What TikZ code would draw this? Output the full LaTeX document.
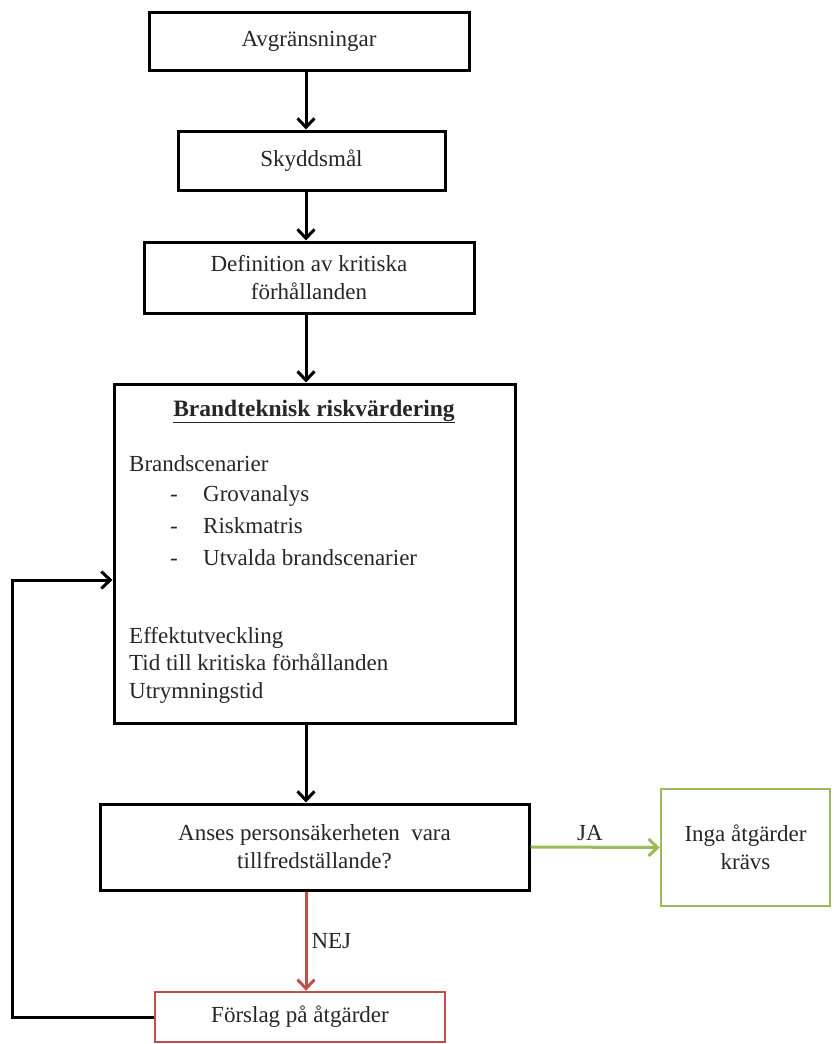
\documentclass[tikz,border=0pt]{standalone}
\usepackage{fontspec}
\setmainfont{Liberation Serif}
\usetikzlibrary{arrows.meta}
\definecolor{grn}{HTML}{9BBB59}
\definecolor{rd}{HTML}{C0504D}
\definecolor{txt}{HTML}{262626}
\newcommand{\fsz}{\fontsize{23}{28}\selectfont}
\begin{document}
\begin{tikzpicture}[x=1pt,y=-1pt,
  every node/.style={text=txt,font=\fsz},
  box/.style={draw=black,line width=3pt,align=center,inner sep=0pt},
  gbox/.style={draw=grn,line width=2.5pt,align=center,inner sep=0pt},
  rbox/.style={draw=rd,line width=2.5pt,align=center,inner sep=0pt},
  arr/.style={line width=3pt,-{Straight Barb[length=9pt,width=17pt]}},
  lbl/.style={inner sep=0pt}]
\useasboundingbox (0,0) rectangle (833,1044);
% boxes
\node[box,minimum width=320pt,minimum height=58pt] (b1) at (309,41) {Avgränsningar};
\node[box,minimum width=267pt,minimum height=59pt] (b2) at (311.5,160.5) {Skyddsmål};
\node[box,minimum width=330pt,minimum height=71pt] (b3) at (309,277.5) {Definition av kritiska\\förhållanden};
\node[box,minimum width=401pt,minimum height=339pt] (b4) at (314.5,553.5) {};
\node[box,minimum width=429pt,minimum height=86pt] (b5) at (314.5,847) {Anses personsäkerheten\ \ vara\\tillfredställande?};
\node[gbox,minimum width=169pt,minimum height=117pt] (g) at (745.5,847.5) {Inga åtgärder\\krävs};
\node[rbox,minimum width=290pt,minimum height=50pt] (r) at (300,1017) {Förslag på åtgärder};
% content of big box
\node[lbl,anchor=base,font=\fontsize{23.5}{28}\selectfont\bfseries] (t0) at (314,416) {\underline{Brandteknisk riskvärdering}};
\node[lbl,anchor=base west] (t1) at (129,471) {Brandscenarier};
\node[lbl,anchor=base west] (d1) at (170,501) {-};
\node[lbl,anchor=base west] (t2) at (203,501) {Grovanalys};
\node[lbl,anchor=base west] (d2) at (170,533) {-};
\node[lbl,anchor=base west] (t3) at (203,533) {Riskmatris};
\node[lbl,anchor=base west] (d3) at (170,565) {-};
\node[lbl,anchor=base west] (t4) at (203,565) {Utvalda brandscenarier};
\node[lbl,anchor=base west] (t5) at (129,643) {Effektutveckling};
\node[lbl,anchor=base west] (t6) at (129,670) {Tid till kritiska förhållanden};
\node[lbl,anchor=base west] (t7) at (129,698) {Utrymningstid};
% axis for vertical arrows
\coordinate (ax) at (306,0);
\draw[arr] (b1.south -| ax) -- (b2.north -| ax);
\draw[arr] (b2.south -| ax) -- (b3.north -| ax);
\draw[arr] (b3.south -| ax) -- (b4.north -| ax);
\draw[arr] (b4.south -| ax) -- (b5.north -| ax);
\draw[arr,draw=rd] (b5.south -| ax) -- (r.north -| ax) node[pos=0.5,anchor=west,lbl,xshift=4pt,text=txt] (nej) {NEJ};
\draw[arr,draw=grn] (b5.east) -- (g.west);
\node[lbl] (ja) at (590,833) {JA};
% feedback loop
\coordinate (fb) at (12,580);
\draw[arr] (r.west) -- (r.west -| fb) -- (fb) -- (fb -| b4.west);
\end{tikzpicture}
\end{document}
